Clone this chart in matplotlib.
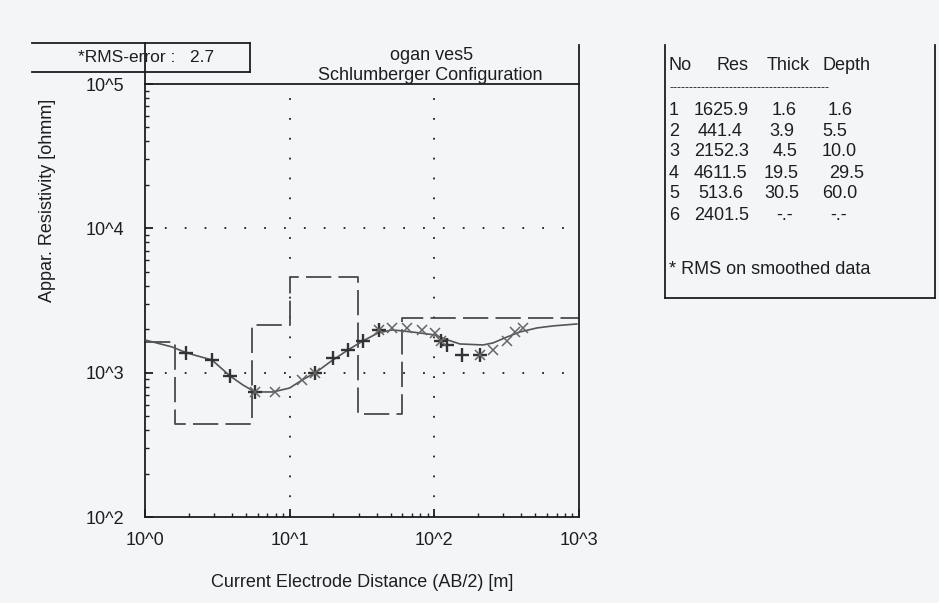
import numpy as np
import matplotlib
matplotlib.use("Agg")
import matplotlib.pyplot as plt
from matplotlib.lines import Line2D
from matplotlib.ticker import FixedLocator, FixedFormatter, NullFormatter

# ---------------- data ----------------
layer_no = [1, 2, 3, 4, 5, 6]
layer_res = [1625.9, 441.4, 2152.3, 4611.5, 513.6, 2401.5]
layer_thick = ["1.6", "3.9", "4.5", "19.5", "30.5", "-.-"]
layer_depth = ["1.6", "5.5", "10.0", "29.5", "60.0", "-.-"]
depth_edges = [1.0, 1.6, 5.5, 10.0, 29.5, 60.0, 1000.0]

# calculated (smooth) curve
curve_ab2 = [1.0, 1.54, 1.95, 2.9, 3.87, 4.75, 5.75, 7.67, 10.0, 12.2, 15.0, 19.0,
             25.3, 32.1, 40.8, 50.9, 60.7, 79.5, 101, 118, 150, 217, 254, 318,
             391, 512, 661, 967]
curve_rho = [1685, 1507, 1369, 1225, 949, 822, 735, 735, 783, 890, 995, 1186,
             1437, 1659, 1884, 1977, 1945, 1884, 1824, 1712, 1581, 1556, 1606,
             1767, 1915, 2041, 2108, 2175]

# field data (+)
plus_ab2 = [1.93, 2.9, 3.87, 5.75, 14.96, 19.9, 25.3, 32.1, 41.6, 112, 123, 155, 206]
plus_rho = [1369, 1225, 949, 735, 995, 1265, 1437, 1659, 1977, 1659, 1556, 1325, 1325]

# smoothed data (x)
cross_ab2 = [5.75, 7.9, 12.2, 14.96, 41.6, 50.9, 65.0, 82.7, 101, 112, 206, 254, 318, 362, 412]
cross_rho = [735, 735, 890, 995, 1977, 2041, 2041, 1977, 1884, 1659, 1325, 1437, 1659, 1915, 2041]

xtick_vals = [1, 10, 100, 1000]
xtick_labels = ["10^0", "10^1", "10^2", "10^3"]
ytick_vals = [100, 1000, 10000, 100000]
ytick_labels = ["10^2", "10^3", "10^4", "10^5"]

# ---------------- figure ----------------
W, H = 939, 603
bg = "#f3f5f7"
ink = "#1e1e1e"
fs = 13
fig = plt.figure(figsize=(W / 100, H / 100), dpi=100, facecolor=bg)
plt.rcParams["font.family"] = ["Liberation Sans", "DejaVu Sans"]


def fx(x):
    return x / W


def fy(y):
    return 1 - y / H


ax_l, ax_r, ax_t, ax_b = 145, 579, 84, 517
ax = fig.add_axes([fx(ax_l), fy(ax_b), (ax_r - ax_l) / W, (ax_b - ax_t) / H])
ax.set_facecolor(bg)
ax.set_xscale("log")
ax.set_yscale("log")
ax.set_xlim(1, 1000)
ax.set_ylim(100, 100000)

for s in ax.spines.values():
    s.set_color(ink)
    s.set_linewidth(1.3)

# grid
for xv in [10, 100]:
    ax.axvline(xv, color=ink, lw=1.3, linestyle=(0, (1, 10)), zorder=1)
for yv in [1000, 10000]:
    ax.axhline(yv, color=ink, lw=1.3, linestyle=(0, (1, 10)), zorder=1)

# model (dashed step)
step_x = depth_edges
step_y = layer_res + [layer_res[-1]]
ax.step(step_x, step_y, where="post", color="#4a4a4a", lw=1.3,
        linestyle=(0, (14, 4)), zorder=2)

# calculated curve
ax.plot(curve_ab2, curve_rho, color="#555555", lw=1.2, zorder=3)

# data markers
ax.plot(plus_ab2, plus_rho, linestyle="none", marker="+", ms=10, mew=1.7,
        color="#333333", zorder=4)
ax.plot(cross_ab2, cross_rho, linestyle="none", marker="x", ms=7, mew=1.1,
        color="#666666", zorder=4)

# ticks
ax.xaxis.set_major_locator(FixedLocator(xtick_vals))
ax.xaxis.set_major_formatter(FixedFormatter(xtick_labels))
ax.yaxis.set_major_locator(FixedLocator(ytick_vals))
ax.yaxis.set_major_formatter(FixedFormatter(ytick_labels))
ax.xaxis.set_minor_formatter(NullFormatter())
ax.yaxis.set_minor_formatter(NullFormatter())
ax.tick_params(axis="both", which="major", direction="in", length=6, width=1.3,
               color=ink, labelsize=fs, labelcolor=ink)
ax.tick_params(axis="both", which="minor", direction="in", length=3, width=1.0,
               color=ink)
ax.tick_params(axis="x", which="major", pad=11)
ax.tick_params(axis="y", which="major", pad=15)

ax.set_xlabel("Current Electrode Distance (AB/2) [m]", fontsize=fs, color=ink,
              labelpad=18)
fig.text(fx(48), fy(200), "Appar. Resistivity [ohmm]", rotation=90,
         ha="center", va="center", fontsize=fs, color=ink)

# extension lines above axes
fig.add_artist(Line2D([fx(145), fx(145)], [fy(84), fy(43)], color=ink, lw=1.3))
fig.add_artist(Line2D([fx(579), fx(579)], [fy(84), fy(45)], color=ink, lw=1.3))

# RMS box
fig.add_artist(Line2D([fx(32), fx(250)], [fy(43), fy(43)], color=ink, lw=1.3))
fig.add_artist(Line2D([fx(32), fx(250)], [fy(72), fy(72)], color=ink, lw=1.3))
fig.add_artist(Line2D([fx(250), fx(250)], [fy(43), fy(72)], color=ink, lw=1.3))
fig.text(fx(78), fy(58), "*RMS-error :   2.7", ha="left", va="center",
         fontsize=12.5, color=ink)

# titles
fig.text(fx(432), fy(55), "ogan ves5", ha="center", va="center", fontsize=fs,
         color=ink)
fig.text(fx(430), fy(76), "Schlumberger Configuration", ha="center",
         va="center", fontsize=fs, color=ink)

# table box
fig.add_artist(Line2D([fx(665), fx(665)], [fy(45), fy(298)], color=ink, lw=1.3))
fig.add_artist(Line2D([fx(665), fx(935)], [fy(298), fy(298)], color=ink, lw=1.3))
fig.add_artist(Line2D([fx(935), fx(935)], [fy(45), fy(298)], color=ink, lw=1.3))

tfs = 13
fig.text(fx(669), fy(65), "No", fontsize=tfs, va="center", color=ink)
fig.text(fx(717), fy(65), "Res", fontsize=tfs, va="center", color=ink)
fig.text(fx(767), fy(65), "Thick", fontsize=tfs, va="center", color=ink)
fig.text(fx(823), fy(65), "Depth", fontsize=tfs, va="center", color=ink)
fig.text(fx(669), fy(88), "-" * 40, fontsize=9, va="center", color=ink)

row_y0, row_dy = 110, 21
res_x = [694, 698, 694, 694, 698, 694]
thick_x = [772, 769, 773, 764, 764, 776]
depth_x = [828, 822, 822, 829, 822, 830]
for i, (n, r, t, d) in enumerate(zip(layer_no, layer_res, layer_thick, layer_depth)):
    y = row_y0 + i * row_dy
    fig.text(fx(669), fy(y), str(n), fontsize=tfs, va="center", color=ink)
    fig.text(fx(res_x[i]), fy(y), f"{r:.1f}", fontsize=tfs, va="center",
             color=ink)
    fig.text(fx(thick_x[i]), fy(y), t, fontsize=tfs, va="center", color=ink)
    fig.text(fx(depth_x[i]), fy(y), d, fontsize=tfs, va="center", color=ink)

fig.text(fx(669), fy(270), "* RMS on smoothed data", fontsize=tfs, va="center",
         color=ink)

fig.savefig("out.png", dpi=100, facecolor=bg)
